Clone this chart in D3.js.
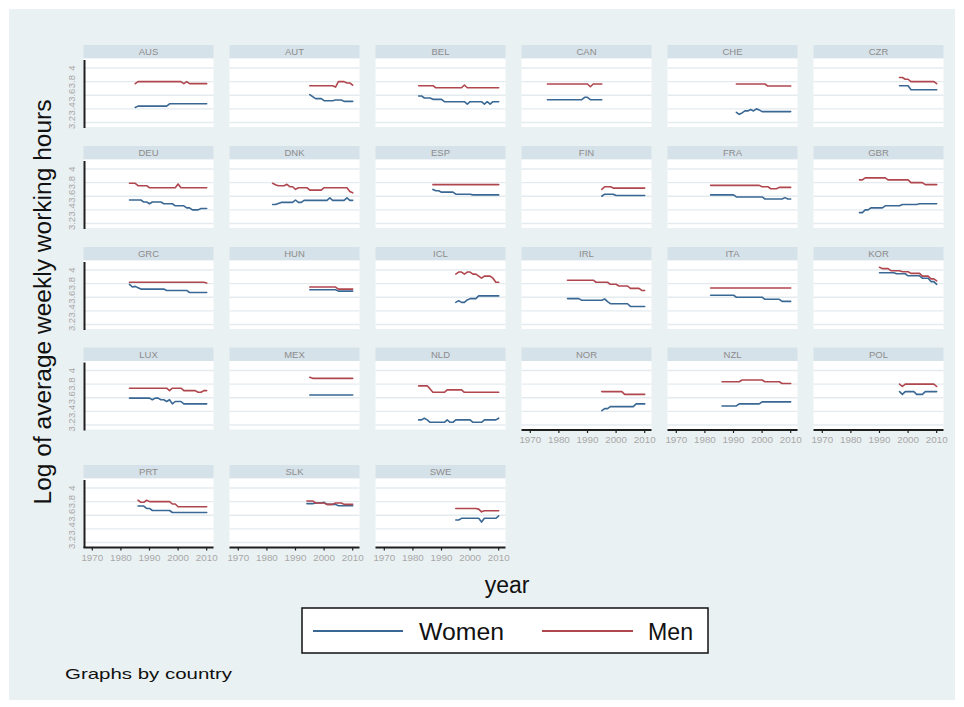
<!DOCTYPE html>
<html>
<head>
<meta charset="utf-8">
<script src="https://cdn.jsdelivr.net/npm/d3@7"></script>
<style>
  body { margin: 0; background: #ffffff; }
  svg { display: block; }
</style>
</head>
<body>
<svg id="chart" width="964" height="707"></svg>
<script>
// Log of average weekly working hours by country, women and men, one value per year.
const countries = ["AUS","AUT","BEL","CAN","CHE","CZR",
                   "DEU","DNK","ESP","FIN","FRA","GBR",
                   "GRC","HUN","ICL","IRL","ITA","KOR",
                   "LUX","MEX","NLD","NOR","NZL","POL",
                   "PRT","SLK","SWE"];

const firstYear = [1985,1995,1982,1976,1991,1997,
                   1983,1982,1987,1995,1982,1983,
                   1983,1995,1995,1983,1982,1990,
                   1983,1995,1982,1995,1986,1997,
                   1986,1994,1995];

const women = [
  [3.42,3.44,3.44,3.44,3.44,3.44,3.44,3.44,3.44,3.44,3.44,3.44,3.475,3.475,3.475,3.475,3.475,3.475,3.475,3.475,3.475,3.475,3.475,3.475,3.475,3.475],
  [3.61,3.58,3.55,3.55,3.55,3.52,3.52,3.52,3.52,3.53,3.53,3.53,3.51,3.51,3.51,3.51],
  [3.59,3.59,3.56,3.56,3.56,3.54,3.54,3.54,3.54,3.505,3.505,3.505,3.505,3.505,3.505,3.505,3.505,3.47,3.505,3.505,3.505,3.505,3.505,3.47,3.505,3.47,3.505,3.505,3.505],
  [3.535,3.535,3.535,3.535,3.535,3.535,3.535,3.535,3.535,3.535,3.535,3.535,3.535,3.57,3.57,3.535,3.535,3.535,3.535,3.535],
  [3.35,3.32,3.34,3.37,3.37,3.39,3.37,3.40,3.385,3.36,3.36,3.36,3.36,3.36,3.36,3.36,3.36,3.36,3.36,3.36],
  [3.74,3.74,3.74,3.74,3.68,3.68,3.68,3.68,3.68,3.68,3.68,3.68,3.68,3.68],
  [3.545,3.545,3.545,3.545,3.545,3.515,3.515,3.49,3.515,3.515,3.515,3.515,3.49,3.49,3.49,3.49,3.46,3.46,3.46,3.46,3.43,3.43,3.40,3.40,3.40,3.42,3.42,3.42],
  [3.48,3.48,3.495,3.51,3.51,3.51,3.51,3.51,3.545,3.51,3.51,3.54,3.54,3.54,3.54,3.54,3.54,3.54,3.54,3.54,3.575,3.54,3.54,3.54,3.54,3.54,3.575,3.54,3.54],
  [3.70,3.68,3.68,3.66,3.66,3.66,3.66,3.66,3.63,3.63,3.63,3.63,3.63,3.63,3.62,3.62,3.62,3.62,3.62,3.62,3.62,3.62,3.62,3.62],
  [3.60,3.63,3.63,3.63,3.63,3.61,3.61,3.61,3.61,3.61,3.61,3.61,3.61,3.61,3.61,3.61],
  [3.62,3.62,3.62,3.62,3.62,3.62,3.62,3.62,3.62,3.59,3.59,3.59,3.59,3.59,3.59,3.59,3.59,3.59,3.59,3.56,3.56,3.56,3.56,3.56,3.56,3.56,3.58,3.56,3.56],
  [3.36,3.36,3.40,3.40,3.43,3.43,3.43,3.43,3.43,3.46,3.46,3.46,3.46,3.46,3.46,3.48,3.48,3.48,3.48,3.48,3.48,3.49,3.49,3.49,3.49,3.49,3.49,3.49],
  [3.79,3.75,3.76,3.74,3.72,3.72,3.72,3.72,3.72,3.72,3.72,3.72,3.72,3.70,3.70,3.70,3.70,3.70,3.70,3.70,3.70,3.67,3.67,3.67,3.67,3.67,3.67,3.67],
  [3.71,3.71,3.71,3.71,3.71,3.71,3.71,3.71,3.71,3.71,3.69,3.69,3.69,3.69,3.69,3.69],
  [3.525,3.55,3.525,3.525,3.56,3.58,3.58,3.58,3.62,3.62,3.62,3.62,3.62,3.62,3.62,3.62],
  [3.58,3.58,3.58,3.58,3.58,3.555,3.555,3.555,3.555,3.555,3.555,3.555,3.555,3.575,3.535,3.505,3.505,3.505,3.505,3.505,3.505,3.505,3.465,3.465,3.465,3.465,3.465,3.465],
  [3.63,3.63,3.63,3.63,3.63,3.63,3.63,3.63,3.63,3.60,3.60,3.60,3.60,3.60,3.60,3.60,3.60,3.60,3.60,3.57,3.57,3.57,3.57,3.57,3.57,3.54,3.54,3.54,3.54],
  [3.96,3.96,3.96,3.96,3.96,3.96,3.945,3.945,3.945,3.945,3.915,3.915,3.915,3.915,3.915,3.88,3.88,3.88,3.83,3.83,3.79],
  [3.595,3.595,3.595,3.595,3.595,3.595,3.595,3.595,3.57,3.595,3.595,3.57,3.57,3.545,3.57,3.51,3.545,3.545,3.545,3.51,3.51,3.51,3.51,3.51,3.51,3.51,3.51,3.51],
  [3.64,3.64,3.64,3.64,3.64,3.64,3.64,3.64,3.64,3.64,3.64,3.64,3.64,3.64,3.64,3.64],
  [3.275,3.275,3.30,3.275,3.24,3.24,3.24,3.24,3.24,3.24,3.275,3.24,3.24,3.275,3.275,3.275,3.275,3.275,3.275,3.24,3.24,3.24,3.24,3.275,3.275,3.275,3.275,3.275,3.30],
  [3.41,3.44,3.44,3.47,3.47,3.47,3.47,3.47,3.47,3.47,3.47,3.47,3.51,3.51,3.51,3.51],
  [3.48,3.48,3.48,3.48,3.48,3.48,3.51,3.51,3.51,3.51,3.51,3.51,3.51,3.51,3.54,3.54,3.54,3.54,3.54,3.54,3.54,3.54,3.54,3.54,3.54],
  [3.69,3.65,3.69,3.69,3.69,3.69,3.65,3.65,3.65,3.69,3.69,3.69,3.69,3.69],
  [3.735,3.735,3.735,3.70,3.70,3.67,3.67,3.67,3.67,3.67,3.67,3.67,3.64,3.64,3.64,3.64,3.64,3.64,3.64,3.64,3.64,3.64,3.64,3.64,3.64],
  [3.77,3.77,3.77,3.78,3.78,3.78,3.79,3.76,3.76,3.76,3.76,3.74,3.74,3.74,3.74,3.74,3.74],
  [3.53,3.53,3.555,3.555,3.555,3.555,3.555,3.555,3.555,3.50,3.555,3.555,3.555,3.555,3.555,3.59]
];

const men = [
  [3.77,3.80,3.80,3.80,3.80,3.80,3.80,3.80,3.80,3.80,3.80,3.80,3.80,3.80,3.80,3.80,3.80,3.77,3.80,3.77,3.77,3.77,3.77,3.77,3.77,3.77],
  [3.74,3.74,3.74,3.74,3.74,3.74,3.74,3.74,3.74,3.72,3.80,3.80,3.80,3.78,3.78,3.75],
  [3.74,3.74,3.74,3.74,3.74,3.74,3.71,3.71,3.71,3.71,3.71,3.71,3.71,3.71,3.71,3.71,3.75,3.71,3.71,3.71,3.71,3.71,3.71,3.71,3.71,3.71,3.71,3.71,3.71],
  [3.765,3.765,3.765,3.765,3.765,3.765,3.765,3.765,3.765,3.765,3.765,3.765,3.765,3.765,3.765,3.725,3.765,3.765,3.765,3.765],
  [3.765,3.765,3.765,3.765,3.765,3.765,3.765,3.765,3.765,3.765,3.765,3.735,3.735,3.735,3.735,3.735,3.735,3.735,3.735,3.735],
  [3.86,3.86,3.835,3.835,3.80,3.80,3.80,3.80,3.80,3.80,3.80,3.80,3.80,3.77],
  [3.79,3.79,3.79,3.755,3.755,3.755,3.755,3.725,3.725,3.725,3.725,3.725,3.725,3.725,3.725,3.725,3.725,3.78,3.725,3.725,3.725,3.725,3.725,3.725,3.725,3.725,3.725,3.725],
  [3.79,3.77,3.755,3.755,3.755,3.775,3.74,3.74,3.70,3.725,3.725,3.725,3.725,3.69,3.69,3.69,3.69,3.69,3.725,3.725,3.725,3.725,3.725,3.725,3.725,3.725,3.725,3.67,3.65],
  [3.77,3.77,3.77,3.77,3.77,3.77,3.77,3.77,3.77,3.77,3.77,3.77,3.77,3.77,3.77,3.77,3.77,3.77,3.77,3.77,3.77,3.77,3.77,3.77],
  [3.70,3.74,3.74,3.74,3.72,3.72,3.72,3.72,3.72,3.72,3.72,3.72,3.72,3.72,3.72,3.72],
  [3.76,3.76,3.76,3.76,3.76,3.76,3.76,3.76,3.76,3.76,3.76,3.76,3.76,3.76,3.76,3.76,3.76,3.76,3.74,3.74,3.74,3.71,3.71,3.71,3.73,3.73,3.73,3.73,3.73],
  [3.84,3.84,3.87,3.87,3.87,3.87,3.87,3.87,3.87,3.87,3.84,3.84,3.84,3.84,3.84,3.84,3.84,3.84,3.80,3.80,3.80,3.80,3.80,3.77,3.77,3.77,3.77,3.77],
  [3.82,3.82,3.82,3.82,3.82,3.82,3.82,3.82,3.82,3.82,3.82,3.82,3.82,3.82,3.82,3.82,3.82,3.82,3.82,3.82,3.82,3.82,3.82,3.82,3.82,3.82,3.82,3.81],
  [3.75,3.75,3.75,3.75,3.75,3.75,3.75,3.75,3.75,3.75,3.72,3.72,3.72,3.72,3.72,3.72],
  [3.94,3.97,3.97,3.94,3.97,3.97,3.94,3.94,3.91,3.88,3.91,3.91,3.91,3.88,3.82,3.82],
  [3.85,3.85,3.85,3.85,3.85,3.85,3.85,3.85,3.85,3.85,3.82,3.82,3.82,3.82,3.82,3.79,3.79,3.79,3.765,3.765,3.765,3.765,3.73,3.73,3.73,3.73,3.70,3.70],
  [3.735,3.735,3.735,3.735,3.735,3.735,3.735,3.735,3.735,3.735,3.735,3.735,3.735,3.735,3.735,3.735,3.735,3.735,3.735,3.735,3.735,3.735,3.735,3.735,3.735,3.735,3.735,3.735,3.735],
  [4.04,4.02,4.02,4.02,3.99,3.99,3.99,3.99,3.975,3.975,3.975,3.95,3.95,3.95,3.95,3.91,3.91,3.91,3.87,3.87,3.84],
  [3.74,3.74,3.74,3.74,3.74,3.74,3.74,3.74,3.74,3.74,3.74,3.74,3.74,3.74,3.705,3.74,3.74,3.74,3.74,3.705,3.705,3.705,3.705,3.705,3.68,3.68,3.705,3.705],
  [3.90,3.885,3.885,3.885,3.885,3.885,3.885,3.885,3.885,3.885,3.885,3.885,3.885,3.885,3.885,3.885],
  [3.775,3.775,3.775,3.775,3.73,3.68,3.68,3.68,3.68,3.68,3.716,3.716,3.716,3.716,3.716,3.716,3.68,3.68,3.68,3.68,3.68,3.68,3.68,3.68,3.68,3.68,3.68,3.68,3.68],
  [3.69,3.69,3.69,3.69,3.69,3.69,3.69,3.69,3.65,3.65,3.65,3.65,3.65,3.65,3.65,3.65],
  [3.835,3.835,3.835,3.835,3.835,3.835,3.835,3.86,3.86,3.86,3.86,3.86,3.86,3.86,3.86,3.835,3.835,3.835,3.835,3.835,3.835,3.81,3.81,3.81,3.81],
  [3.80,3.765,3.80,3.80,3.80,3.80,3.80,3.80,3.80,3.80,3.80,3.80,3.80,3.765],
  [3.82,3.79,3.79,3.82,3.80,3.80,3.80,3.80,3.80,3.80,3.80,3.80,3.765,3.765,3.725,3.725,3.725,3.725,3.725,3.725,3.725,3.725,3.725,3.725,3.725],
  [3.81,3.81,3.81,3.78,3.78,3.78,3.78,3.76,3.76,3.76,3.78,3.78,3.78,3.76,3.76,3.76,3.76],
  [3.70,3.70,3.70,3.70,3.70,3.70,3.70,3.70,3.69,3.65,3.665,3.665,3.665,3.665,3.665,3.665]
];

const yTicks = [3.2, 3.4, 3.6, 3.8, 4];
const xTicks = [1970, 1980, 1990, 2000, 2010];
const seriesNames = ["Women", "Men"];
const seriesColors = ["#3a6894", "#b0464e"];

const FONT = "'Liberation Sans', Arial, Helvetica, sans-serif";

const svg = d3.select("#chart");

// graph region
svg.append("rect")
  .attr("x", 9).attr("y", 9).attr("width", 946).attr("height", 691)
  .attr("fill", "#eaf1f3");

// panel geometry
const nCols = 6;
const colLeft = 83.5, colStep = 146, panelW = 130;
const stripH = 13.5, plotH = 68.5;
const stripTops = [45, 146, 247, 347.5, 465];

const x = d3.scaleLinear().domain([1966.92, 2012.38]).range([0, panelW]);
const y = d3.scaleLinear().domain([3.2, 4]).range([64, 9.5]);

const line = d3.line()
  .x(d => x(d.year))
  .y(d => y(d.v));

const nPanels = countries.length;

countries.forEach((name, i) => {
  const row = Math.floor(i / nCols), col = i % nCols;
  const left = colLeft + col * colStep;
  const stripTop = stripTops[row];
  const plotTop = stripTop + stripH;

  const g = svg.append("g").attr("transform", `translate(${left},0)`);

  // strip with country code
  g.append("rect")
    .attr("x", 0).attr("y", stripTop).attr("width", panelW).attr("height", stripH)
    .attr("fill", "#d6e2e9");
  g.append("text")
    .attr("x", panelW / 2).attr("y", stripTop + 10)
    .attr("text-anchor", "middle")
    .attr("font-family", FONT).attr("font-size", 9.5)
    .attr("fill", "#8c8c8c")
    .text(name);

  // plot region
  const p = g.append("g").attr("transform", `translate(0,${plotTop})`);
  p.append("rect")
    .attr("x", 0).attr("y", 0).attr("width", panelW).attr("height", plotH)
    .attr("fill", "#ffffff");

  p.selectAll("line.grid").data(yTicks).join("line")
    .attr("class", "grid")
    .attr("x1", 0).attr("x2", panelW)
    .attr("y1", d => y(d)).attr("y2", d => y(d))
    .attr("stroke", "#e3ebef").attr("stroke-width", 1.4);

  // series
  [women[i], men[i]].forEach((vals, s) => {
    const pts = vals.map((v, k) => ({ year: firstYear[i] + k, v }));
    p.append("path")
      .datum(pts)
      .attr("d", line)
      .attr("fill", "none")
      .attr("stroke", seriesColors[s])
      .attr("stroke-width", 1.6)
      .attr("stroke-linejoin", "round")
      .attr("stroke-linecap", "round");
  });

  // y axis on the first column
  if (col === 0) {
    p.append("line")
      .attr("x1", 1).attr("x2", 1)
      .attr("y1", 1.5).attr("y2", plotH + 1)
      .attr("stroke", "#1e1e1e").attr("stroke-width", 2);
    p.selectAll("text.ylab").data(yTicks).join("text")
      .attr("class", "ylab")
      .attr("transform", d => `translate(-8.5,${y(d)}) rotate(-90)`)
      .attr("text-anchor", "middle")
      .attr("font-family", FONT).attr("font-size", 9.5)
      .attr("fill", "#a8a8a8")
      .text(d => d3.format("~g")(d));
  }

  // x axis on the bottom panel of each column
  if (i + nCols >= nPanels) {
    const ax = p.append("g").attr("transform", `translate(0,${plotH + 0.5})`);
    ax.append("line")
      .attr("x1", 0).attr("x2", panelW).attr("y1", 0).attr("y2", 0)
      .attr("stroke", "#1e1e1e").attr("stroke-width", 2);
    ax.selectAll("line.tick").data(xTicks).join("line")
      .attr("class", "tick")
      .attr("x1", d => x(d)).attr("x2", d => x(d))
      .attr("y1", 0).attr("y2", 3)
      .attr("stroke", "#1e1e1e").attr("stroke-width", 1.2);
    ax.selectAll("text.xlab").data(xTicks).join("text")
      .attr("class", "xlab")
      .attr("x", d => x(d)).attr("y", 13)
      .attr("text-anchor", "middle")
      .attr("font-family", FONT).attr("font-size", 9.8)
      .attr("fill", "#a8a8a8")
      .text(d => d);
  }
});

// axis titles
svg.append("text")
  .attr("transform", "translate(51,302) rotate(-90)")
  .attr("text-anchor", "middle")
  .attr("font-family", FONT).attr("font-size", 23)
  .attr("fill", "#111")
  .attr("textLength", 405).attr("lengthAdjust", "spacingAndGlyphs")
  .text("Log of average weekly working hours");

svg.append("text")
  .attr("x", 507).attr("y", 593)
  .attr("text-anchor", "middle")
  .attr("font-family", FONT).attr("font-size", 23)
  .attr("fill", "#111")
  .text("year");

// legend
const leg = svg.append("g");
leg.append("rect")
  .attr("x", 302).attr("y", 608).attr("width", 406).attr("height", 45)
  .attr("fill", "#ffffff").attr("stroke", "#111").attr("stroke-width", 1.5);
const legItems = [
  { x1: 313, x2: 403, tx: 419, tw: 85 },
  { x1: 542, x2: 633, tx: 648, tw: 45 }
];
legItems.forEach((it, s) => {
  leg.append("line")
    .attr("x1", it.x1).attr("x2", it.x2).attr("y1", 631).attr("y2", 631)
    .attr("stroke", seriesColors[s]).attr("stroke-width", 1.8);
  leg.append("text")
    .attr("x", it.tx).attr("y", 640)
    .attr("font-family", FONT).attr("font-size", 23)
    .attr("fill", "#111")
    .attr("textLength", it.tw).attr("lengthAdjust", "spacingAndGlyphs")
    .text(seriesNames[s]);
});

// note
svg.append("text")
  .attr("x", 65).attr("y", 679)
  .attr("font-family", FONT).attr("font-size", 15)
  .attr("fill", "#111")
  .attr("textLength", 167).attr("lengthAdjust", "spacingAndGlyphs")
  .text("Graphs by country");
</script>
</body>
</html>
